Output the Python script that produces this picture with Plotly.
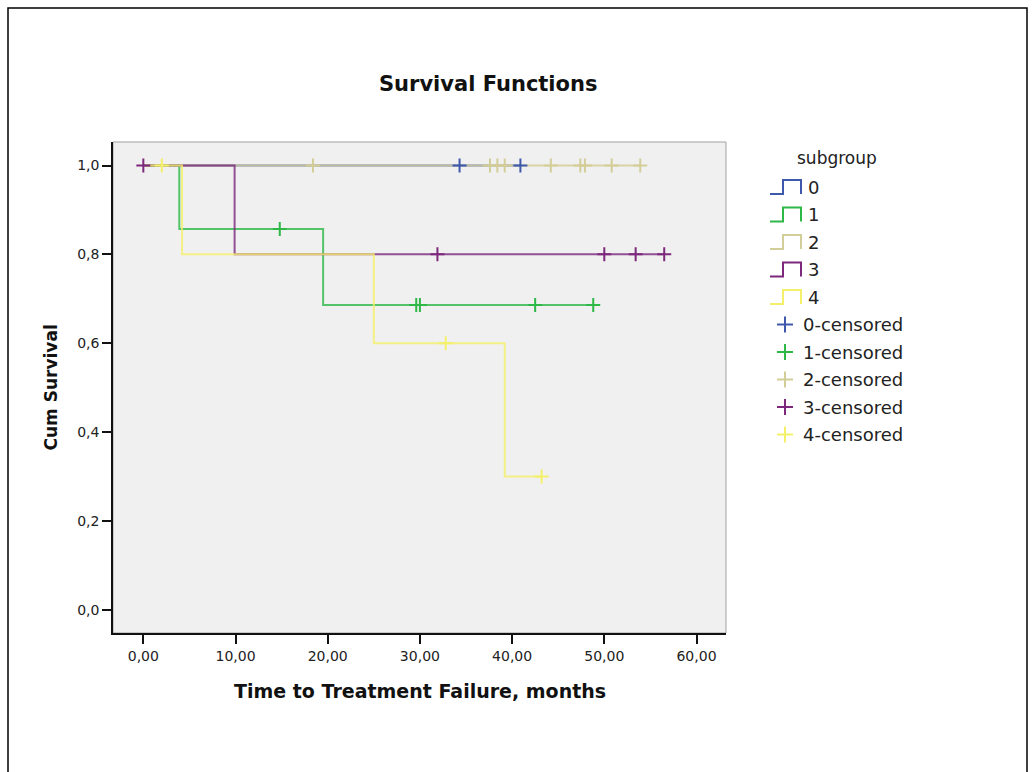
import plotly.graph_objects as go

# Kaplan-Meier step curves per subgroup (time in months, cumulative survival)
g0_time = [0.0, 40.9]
g0_surv = [1.0, 1.0]
g1_time = [0.0, 3.9, 19.5, 48.8]
g1_surv = [1.0, 0.857, 0.686, 0.686]
g2_time = [0.0, 53.9]
g2_surv = [1.0, 1.0]
g3_time = [0.0, 9.9, 56.5]
g3_surv = [1.0, 0.8, 0.8]
g4_time = [0.0, 4.2, 25.0, 39.2, 43.2]
g4_surv = [1.0, 0.8, 0.6, 0.3, 0.3]

# Censored observations
c0_time = [34.3, 40.9]
c0_surv = [1.0, 1.0]
c1_time = [14.8, 29.6, 30.0, 42.5, 48.8]
c1_surv = [0.857, 0.686, 0.686, 0.686, 0.686]
c2_time = [18.4, 37.6, 38.4, 39.2, 44.2, 47.4, 47.9, 50.8, 53.9]
c2_surv = [1.0, 1.0, 1.0, 1.0, 1.0, 1.0, 1.0, 1.0, 1.0]
c3_time = [0.0, 31.9, 50.0, 53.4, 56.5]
c3_surv = [1.0, 0.8, 0.8, 0.8, 0.8]
c4_time = [2.0, 32.8, 43.2]
c4_surv = [1.0, 0.6, 0.3]

groups = ["0", "1", "2", "3", "4"]
colors = ["#3E58AC", "#2EB848", "#D3CE97", "#7C287D", "#F5F06A"]

x_ticks = [0, 10, 20, 30, 40, 50, 60]
x_tick_text = ["0,00", "10,00", "20,00", "30,00", "40,00", "50,00", "60,00"]
y_ticks = [0.0, 0.2, 0.4, 0.6, 0.8, 1.0]
y_tick_text = ["0,0", "0,2", "0,4", "0,6", "0,8", "1,0"]

curves = [(g0_time, g0_surv), (g1_time, g1_surv), (g2_time, g2_surv),
          (g3_time, g3_surv), (g4_time, g4_surv)]
censored = [(c0_time, c0_surv), (c1_time, c1_surv), (c2_time, c2_surv),
            (c3_time, c3_surv), (c4_time, c4_surv)]

W, H = 1035, 772
ML, MR, MT, MB = 113, 309, 142, 139
PW = W - ML - MR
PH = H - MT - MB


def px(x):
    return (x - ML) / PW


def py(y):
    return (H - MB - y) / PH


FONT = "DejaVu Sans, Verdana, sans-serif"

fig = go.Figure()

for name, (t, s), col in zip(groups, curves, colors):
    fig.add_trace(go.Scatter(
        x=t, y=s, mode="lines", name=name, line_shape="hv",
        line=dict(color=col, width=2), opacity=0.8, showlegend=False,
        hoverinfo="skip"))

for name, (t, s), col in zip(groups, censored, colors):
    fig.add_trace(go.Scatter(
        x=t, y=s, mode="markers", name=name + "-censored",
        marker=dict(symbol="cross-thin", size=10, color=col,
                    line=dict(color=col, width=2)),
        showlegend=False))

shapes = []
annotations = []

# plot-area border (top/right grey), axes drawn in black on top
shapes.append(dict(type="rect", xref="paper", yref="paper", x0=0, x1=1, y0=0, y1=1,
                   line=dict(color="#A0A0A0", width=1), layer="below"))
# outer frame of the chart
shapes.append(dict(type="rect", xref="paper", yref="paper",
                   x0=px(8), x1=px(1027), y0=py(790), y1=py(8),
                   line=dict(color="#000000", width=1.5)))

# legend
annotations.append(dict(x=px(837), y=py(158), xref="paper", yref="paper",
                        text="subgroup", showarrow=False, xanchor="center",
                        yanchor="middle", font=dict(family=FONT, size=17, color="#222")))
row0, step = 187.0, 27.5
for i, (name, col) in enumerate(zip(groups, colors)):
    yc = row0 + i * step
    yt, yb = yc - 7, yc + 7
    path = (f"M {px(770)},{py(yb)} L {px(783)},{py(yb)} L {px(783)},{py(yt)} "
            f"L {px(801)},{py(yt)} L {px(801)},{py(yb)}")
    shapes.append(dict(type="path", xref="paper", yref="paper", path=path,
                       line=dict(color=col, width=2)))
    annotations.append(dict(x=px(806), y=py(yc), xref="paper", yref="paper",
                            text=name, showarrow=False, xanchor="left", yanchor="middle",
                            font=dict(family=FONT, size=18, color="#222")))
for i, (name, col) in enumerate(zip(groups, colors)):
    yc = row0 + (i + 5) * step
    shapes.append(dict(type="line", xref="paper", yref="paper",
                       x0=px(777), x1=px(793), y0=py(yc), y1=py(yc),
                       line=dict(color=col, width=2)))
    shapes.append(dict(type="line", xref="paper", yref="paper",
                       x0=px(785), x1=px(785), y0=py(yc - 8), y1=py(yc + 8),
                       line=dict(color=col, width=2)))
    annotations.append(dict(x=px(801), y=py(yc), xref="paper", yref="paper",
                            text=name + "-censored", showarrow=False, xanchor="left",
                            yanchor="middle", font=dict(family=FONT, size=18, color="#222")))

# titles
annotations.append(dict(x=px(488), y=py(84), xref="paper", yref="paper",
                        text="<b>Survival Functions</b>", showarrow=False,
                        xanchor="center", yanchor="middle",
                        font=dict(family=FONT, size=21, color="#111")))
annotations.append(dict(x=0.5, y=py(691), xref="paper", yref="paper",
                        text="<b>Time to Treatment Failure, months</b>", showarrow=False,
                        xanchor="center", yanchor="middle",
                        font=dict(family=FONT, size=19, color="#111")))
annotations.append(dict(x=px(50), y=0.5, xref="paper", yref="paper",
                        text="<b>Cum Survival</b>", showarrow=False, textangle=-90,
                        xanchor="center", yanchor="middle",
                        font=dict(family=FONT, size=17, color="#111")))

fig.update_layout(
    width=W, height=H,
    margin=dict(l=ML, r=MR, t=MT, b=MB, pad=0),
    paper_bgcolor="white", plot_bgcolor="#F0F0F0",
    shapes=shapes, annotations=annotations, showlegend=False,
    font=dict(family=FONT),
)
fig.update_xaxes(range=[-3.29, 63.2], tickvals=x_ticks, ticktext=x_tick_text,
                 showgrid=False, zeroline=False, showline=True, linecolor="#111",
                 linewidth=1.5, ticks="outside", ticklen=9, tickwidth=1.5,
                 tickcolor="#111", tickfont=dict(family=FONT, size=14, color="#222"))
fig.update_yaxes(range=[-0.0525, 1.053], tickvals=y_ticks, ticktext=y_tick_text,
                 showgrid=False, zeroline=False, showline=True, linecolor="#111",
                 linewidth=1.5, ticks="outside", ticklen=9, tickwidth=1.5,
                 tickcolor="#111", tickfont=dict(family=FONT, size=14, color="#222"))

fig.write_html("out.html")
